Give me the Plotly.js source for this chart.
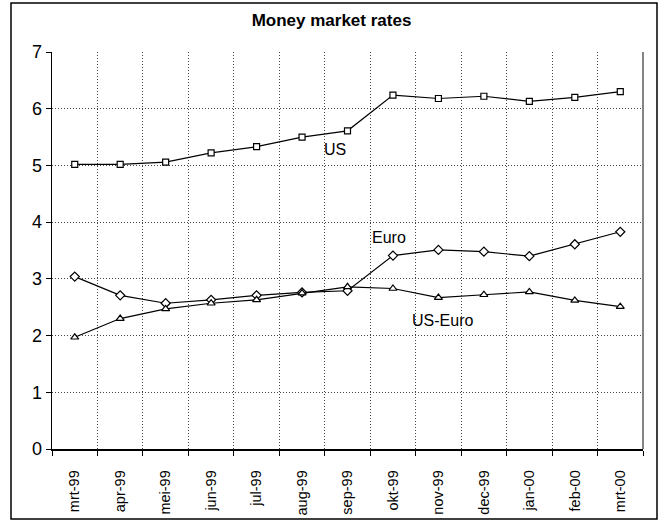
<!DOCTYPE html>
<html>
<head>
<meta charset="utf-8">
<script src="https://cdn.plot.ly/plotly-3.0.1.min.js"></script>
<style>html,body{margin:0;padding:0;background:#fff;}#chart{width:663px;height:522px;}</style>
</head>
<body>
<div id="chart"></div>
<script>
const months = ["mrt-99","apr-99","mei-99","jun-99","jul-99","aug-99","sep-99","okt-99","nov-99","dec-99","jan-00","feb-00","mrt-00"];
const us     = [5.02, 5.02, 5.06, 5.22, 5.33, 5.50, 5.61, 6.24, 6.18, 6.22, 6.13, 6.20, 6.30];
const euro   = [3.04, 2.71, 2.57, 2.63, 2.71, 2.76, 2.79, 3.41, 3.51, 3.48, 3.40, 3.61, 3.83];
const usEuro = [1.97, 2.30, 2.47, 2.57, 2.63, 2.75, 2.86, 2.83, 2.67, 2.72, 2.77, 2.62, 2.51];
const yTicks = [0,1,2,3,4,5,6,7];
const labels = [
  {text:"US", x:5.72, y:5.28},
  {text:"Euro", x:6.92, y:3.73},
  {text:"US-Euro", x:8.1, y:2.27}
];

const FONT = "Liberation Sans Narrow, Liberation Sans, Arial, sans-serif";
const SANS = "Liberation Sans, Arial, sans-serif";
function tr(y, sym, size){
  return {x: months, y: y, type:"scatter", mode:"lines+markers",
    line:{color:"#000", width:1.2},
    marker:{symbol:sym, size:size, color:"#fff", line:{color:"#000", width:1.2}},
    showlegend:false, hoverinfo:"skip"};
}
const data = [tr(us,"square",6), tr(euro,"diamond",7), tr(usEuro,"triangle-up",7)];

const layout = {
  width:663, height:522,
  margin:{l:52, r:20, t:52, b:73},
  paper_bgcolor:"#fff", plot_bgcolor:"#fff",
  font:{family:FONT, color:"#000"},
  title:{text:"<b>Money market rates</b>", font:{family:SANS, size:17, color:"#000"},
    x:0.5, xanchor:"center", y:1-20/522, yanchor:"middle", yref:"container"},
  xaxis:{type:"category", range:[-0.5,12.5], tickson:"boundaries", ticks:"outside", ticklen:5, tickcolor:"#000",
    showgrid:true, gridcolor:"#444", griddash:"1px,2px", gridwidth:1,
    showline:true, linecolor:"#000", linewidth:1.5, automargin:false,
    tickangle:-90, tickfont:{family:SANS, size:14.5, color:"#000"}, ticklabelstandoff:14},
  yaxis:{range:[0,7], tickvals:yTicks, ticks:"outside", ticklen:5, tickcolor:"#000",
    showgrid:true, gridcolor:"#444", griddash:"1px,2px", gridwidth:1,
    showline:true, linecolor:"#000", linewidth:1.5, zeroline:false,
    tickfont:{family:SANS, size:18, color:"#000"}},
  annotations: labels.map(l => ({text:l.text, x:l.x, y:l.y, xref:"x", yref:"y", showarrow:false,
    font:{family:FONT, size:16, color:"#000"}})),
  shapes:[
    {type:"line", xref:"paper", yref:"paper", x0:1, x1:1, y0:0, y1:1, line:{color:"#333", width:1.2}},
    {type:"rect", xref:"paper", yref:"paper", x0:(11-52)/591, x1:(657-52)/591, y0:(449-519)/397, y1:(449-3)/397,
      line:{color:"#000", width:1.5}}
  ]
};
Plotly.newPlot("chart", data, layout, {staticPlot:true});
</script>
</body>
</html>
